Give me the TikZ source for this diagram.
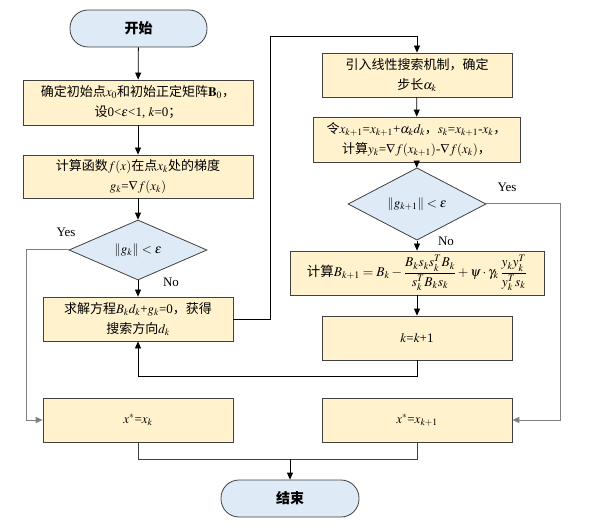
\documentclass[tikz,border=0pt]{standalone}
\usepackage{amsmath}
\usepackage{mathptmx}
\usepackage[no-math]{fontspec}
\setmainfont{Liberation Serif}
\newfontfamily\zh{Noto Sans CJK SC}
\usetikzlibrary{shapes.geometric,arrows.meta}
\definecolor{boxfill}{HTML}{FFF2CC}
\definecolor{bluefill}{HTML}{DEEAF6}
\definecolor{edgegray}{HTML}{404040}
\definecolor{linegray}{HTML}{808080}
\newcommand{\z}[1]{{\zh #1}}
\tikzset{
  stepbox/.style={draw=edgegray, line width=0.8pt, fill=boxfill, rectangle, inner sep=0pt, align=center, font=\fontsize{13}{20}\selectfont},
  termbox/.style={draw=edgegray, line width=0.8pt, fill=bluefill, rectangle, rounded corners=18pt, inner sep=0pt, minimum width=137pt, minimum height=37pt, font=\fontsize{14}{16}\selectfont\bfseries},
  decbox/.style={draw=edgegray, line width=0.8pt, fill=bluefill, diamond, inner sep=0pt, minimum width=138pt, minimum height=54pt, font=\fontsize{13}{15}\selectfont},
  arr/.style={draw=black, line width=0.8pt, -{Triangle[length=7pt,width=6pt]}},
  plain/.style={draw=edgegray, line width=0.8pt},
  garr/.style={draw=linegray, line width=1pt, -{Triangle[length=7pt,width=6pt]}},
  lbl/.style={font=\fontsize{13}{15}\selectfont, inner sep=0pt}
}
\begin{document}
\begin{tikzpicture}[x=1pt,y=-1pt]
\useasboundingbox (0,0) rectangle (589,529);
\node[termbox] (start) at (138.5,28.5) {\zh\bfseries 开始};
\node[stepbox, minimum width=230pt, minimum height=45pt] (b1) at (138,102.5)
  {\z{确定初始点}$x_0$\z{和初始正定矩阵}$\mathbf{B}_0$\z{，}\\ \z{设}0<$\varepsilon$<1, $k$=0\z{；}};
\node[stepbox, minimum width=230pt, minimum height=43pt] (b2) at (138,176.5)
  {\z{计算函数}$f(x)$\z{在点}$x_k$\z{处的梯度}\\ $g_k$=$\nabla f(x_k)$};
\node[decbox] (d1) at (138,250) {$\|g_k\|<\varepsilon$};
\node[stepbox, minimum width=190pt, minimum height=44pt] (b3) at (138,319)
  {\z{求解方程}$B_kd_k$+$g_k$=0\z{，获得}\\ \z{搜索方向}$d_k$};
\node[stepbox, minimum width=190pt, minimum height=44pt] (b4) at (417,75)
  {\z{引入线性搜索机制，确定}\\ \z{步长}$\alpha_k$};
\node[stepbox, minimum width=207pt, minimum height=45pt] (b5) at (416.5,139.5)
  {\z{令}$x_{k+1}$=$x_{k+1}$+$\alpha_k d_k$\z{，}$s_k$=$x_{k+1}$-$x_k$\z{，}\\ \z{计算}$y_k$=$\nabla f(x_{k+1})$-$\nabla f(x_k)$\z{，}};
\node[decbox, minimum height=55pt] (d2) at (417,204) {$\|g_{k+1}\|<\varepsilon$};
\node[stepbox, minimum width=254pt, minimum height=44pt, font=\fontsize{13.5}{15}\selectfont] (b6) at (417,273)
  {\z{计算}$\displaystyle B_{k+1}=B_k-\frac{B_ks_ks_k^TB_k}{s_k^TB_ks_k}+\psi\cdot\gamma_k\,\frac{y_ky_k^T}{y_k^Ts_k}$};
\node[stepbox, minimum width=190pt, minimum height=44pt] (b7) at (417,338) {$k$=$k$+1};
\node[stepbox, minimum width=190pt, minimum height=44pt] (b8) at (138,420) {$x^*$=$x_k$};
\node[stepbox, minimum width=190pt, minimum height=44pt] (b9) at (417,420) {$x^*$=$x_{k+1}$};
\node[termbox, minimum width=138pt] (end) at (290,498.5) {\zh\bfseries 结束};

\coordinate (up) at (270,36);
\coordinate (lp) at (138,376);
\coordinate (yl) at (26,250);
\coordinate (yr) at (560,204);
\coordinate (m) at (290,459);

\draw[arr] (start) -- (b1);
\draw[arr] (b1) -- (b2);
\draw[arr] (b2) -- (d1);
\draw[arr] (d1) -- (b3);
\draw[arr] (b3.east) -| (up) -| (b4.north);
\draw[arr] (b4) -- (b5);
\draw[arr] (b5) -- (d2);
\draw[arr] (d2) -- (b6);
\draw[arr] (b6) -- (b7);
\draw[arr] (b7.south) |- (lp) -- (b3.south);
\draw[garr] (d1.west) -- (yl) |- (b8.west);
\draw[garr] (d2.east) -- (yr) |- (b9.east);
\draw[plain] (b8.south) |- (m);
\draw[plain] (b9.south) |- (m);
\draw[arr] (m) -- (end.north);

\node[lbl] (yes1) at (66,232) {Yes};
\node[lbl] (no1) at (171,282) {No};
\node[lbl] (yes2) at (507,187) {Yes};
\node[lbl] (no2) at (446,241) {No};
\end{tikzpicture}
\end{document}
